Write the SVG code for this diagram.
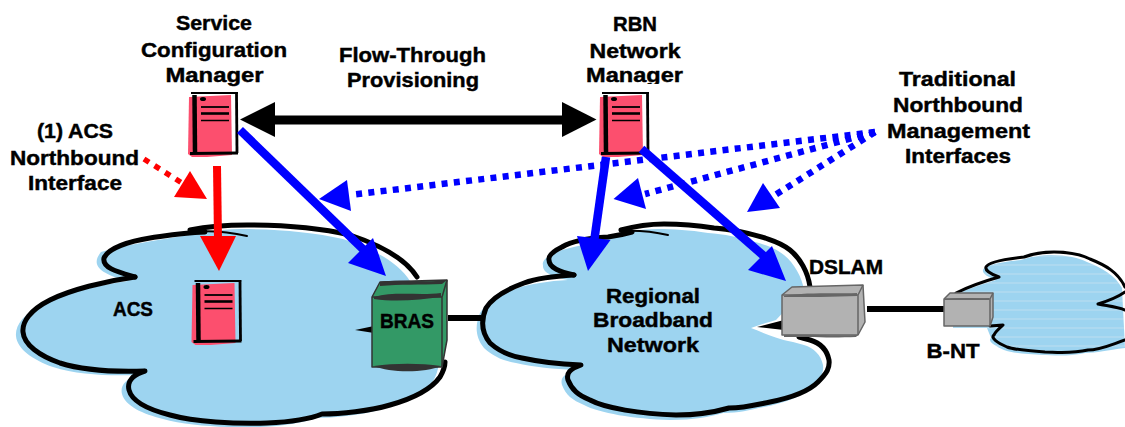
<svg xmlns="http://www.w3.org/2000/svg" xmlns:xlink="http://www.w3.org/1999/xlink" width="1125" height="427" viewBox="0 0 1125 427">
<style>
text{font-family:"Liberation Sans",Arial,sans-serif;font-weight:bold;font-size:21px;fill:#000;stroke:#000;stroke-width:.45px;text-anchor:middle}
.cf{fill:#9dd4f0}
.co{fill:none;stroke:#000;stroke-width:5;stroke-linecap:round;stroke-linejoin:round}
.co2{fill:none;stroke:#000;stroke-width:3;stroke-linecap:round;stroke-linejoin:round}
.link{stroke:#000;stroke-width:6;fill:none}
.sb{stroke:#00f;stroke-width:8.5;fill:none}
.db{stroke:#00f;stroke-width:6.500;stroke-dasharray:6 6.300;fill:none}
.blue{fill:#00f}
.red{fill:#f00}
.spk{fill:#fc4f6e}
.sl{stroke:#000;fill:none}
.bf{fill:#339966;stroke:#333;stroke-width:1.5;stroke-linejoin:round}
.gf{fill:#b2b2b2;stroke:#666;stroke-width:1.5;stroke-linejoin:round}
</style>
<defs>
<g id="srv">
<path class="spk" d="M189,97 L231,95 L232,155 L207,157 L192,157 L188,154 Z"/>
<path class="sl" stroke-width="2" d="M191,93 L238,93"/>
<path class="sl" stroke-width="4.500" d="M194.500,95 L195,153"/>
<path class="sl" stroke-width="2.800" d="M236.500,94 L237,153"/>
<path class="sl" stroke-width="3" d="M190,153.500 L238,153"/>
<ellipse cx="203" cy="99" rx="3" ry="2"/>
<path class="sl" stroke-width="1.800" d="M201,107 L229,107"/>
<path class="sl" stroke-width="2.600" d="M201,113.500 L229,113.500"/>
<path class="sl" stroke-width="1.500" d="M201,120.500 L229,120.500"/>
</g>
<pattern id="stripe" width="6" height="9" patternUnits="userSpaceOnUse">
<rect width="6" height="9" fill="#9dd4f0"/><rect width="6" height="2" fill="#add9f0"/>
</pattern>
<clipPath id="mg"><rect x="580" y="60" width="110" height="24"/></clipPath>
</defs>

<g id="cloud-acs">
<path class="cf" transform="translate(-7,4)" d="M135,277 C105,281 70,290 50,300 C30,310 22,322 23,332 C24,345 40,356 60,363 C85,371 115,372 145,371 C132,375 127,382 129,390 C132,402 150,410 170,415 C195,422 235,424 267,423 C290,422 310,419 322,414 C340,414 370,411 390,405 C415,398 432,388 440,377 C446,368 447,355 447,340 L430,300 L417,277 C405,258 380,245 350,235 C320,228 285,225 247,225 C225,225 210,229 190,232 C165,236 130,241 108,248 C100,258 100,268 135,277 Z"/>
<path class="co" d="M135,277 C105,281 70,290 50,300 C30,310 22,322 23,332 C24,345 40,356 60,363 C85,371 115,372 145,371 C132,375 127,382 129,390 C132,402 150,410 170,415 C195,422 235,424 267,423 C290,422 310,419 322,414 C340,414 370,411 390,405 C415,398 432,388 440,377 C444,370 445,366 445,362"/>
<path class="co" d="M417,277 C405,258 380,245 350,235 C320,228 285,225 247,225 C225,225 205,227 190,230"/>
<path class="co" style="stroke-width:2" d="M190,232 C210,230 230,232 247,236"/>
<path class="co" d="M205,232 C180,233 165,236 150,238 C130,241 108,248 104,258 C102,268 118,272 135,277"/>
<path fill="#000" d="M374,326 L355,330 L374,333 Z"/>
</g>

<g id="cloud-regional">
<path class="cf" transform="translate(-6,5)" d="M574,275 C555,276 535,279 524,283 C505,290 492,298 486,308 C481,320 481,332 490,343 C500,352 510,356 522,358 C540,362 560,364 581,365 C570,369 566,373 568,380 C572,390 578,395 590,400 C605,408 640,414 676,415 C700,415 715,412 729,408 C745,408 755,405 770,402 C790,398 808,392 818,382 C827,373 830,368 829,360 C827,350 820,343 810,340 L799,337 C780,333 770,328 757,323 C765,320 775,317 782,315 L810,285 C808,272 800,258 790,250 C780,242 770,240 765,238 C745,232 730,229 714,228 C695,225 680,224 664,224 C645,224 632,227 621,232 C600,238 575,242 562,247 C550,252 548,258 549,260 C548,268 560,272 574,275 Z"/>
<path class="co" d="M574,275 C555,276 535,279 524,283 C505,290 492,298 486,308 C481,320 481,332 490,343 C500,352 510,356 522,358 C540,362 560,364 581,365 C570,369 566,373 568,380 C572,390 578,395 590,400 C605,408 640,414 676,415 C700,415 715,412 729,408 C745,408 755,405 770,402 C790,398 808,392 818,382 C827,373 830,368 829,360 C827,350 820,343 810,340 L799,337"/>
<path class="co" d="M810,287 C808,272 800,258 790,250 C780,242 770,240 765,238 C745,232 730,229 714,228 C695,225 680,224 664,224 C645,224 632,227 621,230"/>
<path class="co" style="stroke-width:2" d="M621,231 C640,230 655,232 668,235"/>
<path class="co" d="M632,232 C625,234 615,236 608,237 C590,238 572,241 562,247 C552,252 548,256 549,260 C549,268 560,272 574,275"/>
<path fill="#000" d="M784,320 L757,327 L784,330 Z"/>
</g>

<g id="cloud-home">
<path fill="url(#stripe)" transform="translate(-3,3)" d="M956,293 C970,286 985,281 999,277 C990,274 985,270 986,267 C988,262 1005,259 1024,257 C1032,254 1045,252 1054,252 C1070,252 1082,255 1090,259 C1105,265 1118,272 1125,285 L1128,345 C1110,347 1100,350 1088,350 C1070,354 1055,352 1045,352 C1030,351 1015,350 1007,347 C998,343 990,338 994,335 L990,325 L956,325 Z"/>
<path class="co2" d="M956,293 C970,286 985,281 999,277 C990,274 985,270 986,267 C988,262 1005,259 1024,257 C1032,254 1045,252 1054,252 C1070,252 1082,255 1090,259 C1105,265 1118,272 1125,287"/>
<path class="co2" d="M1125,292 C1118,297 1108,301 1098,304 C1108,306 1118,307 1125,310"/>
<path class="co2" d="M1125,340 C1110,345 1100,350 1088,350 C1070,354 1055,352 1045,352 C1030,351 1015,350 1007,347 C998,343 990,338 994,335 C996,331 1000,328 1003,325 L990,326"/>
</g>

<path class="link" d="M448,318 L481,318"/>
<path class="link" d="M867,309 L944,309"/>

<g id="node-scm">
<use xlink:href="#srv" href="#srv"/>
<text x="214" y="30" textLength="76" lengthAdjust="spacingAndGlyphs">Service</text>
<text x="214" y="57" textLength="146" lengthAdjust="spacingAndGlyphs">Configuration</text>
<text x="214.500" y="82" textLength="98" lengthAdjust="spacingAndGlyphs">Manager</text>
</g>

<g id="node-rbn">
<use xlink:href="#srv" href="#srv" transform="translate(411,0)"/>
<text x="635" y="31" textLength="44" lengthAdjust="spacingAndGlyphs">RBN</text>
<text x="635" y="58" textLength="91" lengthAdjust="spacingAndGlyphs">Network</text>
<g clip-path="url(#mg)"><text x="634.500" y="82" textLength="97" lengthAdjust="spacingAndGlyphs">Manager</text></g>
</g>

<g id="node-acs">
<use xlink:href="#srv" href="#srv" transform="translate(3.500,188)"/>
<text x="133" y="316" textLength="40" lengthAdjust="spacingAndGlyphs">ACS</text>
</g>

<g id="node-bras">
<path class="bf" d="M380,282 L447,280 L447,340 L442,367 L372,367 L372,297 Z"/>
<path class="bf" style="fill:none" d="M372,297 L442,297 L442,367 M442,297 L447,280"/>
<path fill="#333" d="M380,282 C400,279 425,283 447,280 L442,284 C420,285 400,284 380,286 Z"/>
<path fill="#333" d="M374,297 C395,291 420,296 441,293 L441,297 C420,300 395,302 374,299 Z"/>
<path fill="#333" d="M374,366 C395,363 420,363 441,366 C425,373 390,373 374,366 Z"/>
<text x="407" y="328" textLength="54" lengthAdjust="spacingAndGlyphs">BRAS</text>
</g>

<g id="node-dslam">
<path class="gf" d="M792,287 L863,285 L865,322 L858,335 L782,335 L782,295 Z"/>
<path class="gf" style="fill:none" d="M782,295 L858,295 L858,335 M858,295 L863,285"/>
<path fill="#666" d="M784,296 C805,292 835,294 857,293 L857,296 C835,297 805,297 784,297 Z"/>
<path fill="#666" d="M784,335 C805,334 835,336 858,335 L856,337 C835,338 805,337 784,337 Z"/>
<text x="846" y="274" textLength="74" lengthAdjust="spacingAndGlyphs">DSLAM</text>
</g>

<g id="node-bnt">
<path class="gf" d="M950,293 L993,293 L993,317 L990,326 L944,326 L944,299 Z"/>
<path class="gf" style="fill:none" d="M944,299 L990,299 L990,326 M990,299 L993,293"/>
<path fill="#666" d="M945,299 C960,297 975,299 989,298 L989,300 L945,300 Z"/>
<text x="953" y="358" textLength="53" lengthAdjust="spacingAndGlyphs">B-NT</text>
</g>

<g id="labels">
<text x="412.500" y="62" textLength="147" lengthAdjust="spacingAndGlyphs">Flow-Through</text>
<text x="413" y="87" textLength="132" lengthAdjust="spacingAndGlyphs">Provisioning</text>
<text x="75" y="138" textLength="76" lengthAdjust="spacingAndGlyphs">(1) ACS</text>
<text x="74.500" y="165" textLength="129" lengthAdjust="spacingAndGlyphs">Northbound</text>
<text x="75" y="190" textLength="94" lengthAdjust="spacingAndGlyphs">Interface</text>
<text x="957.500" y="86" textLength="117" lengthAdjust="spacingAndGlyphs">Traditional</text>
<text x="958" y="112" textLength="130" lengthAdjust="spacingAndGlyphs">Northbound</text>
<text x="958.500" y="138" textLength="143" lengthAdjust="spacingAndGlyphs">Management</text>
<text x="958" y="163" textLength="106" lengthAdjust="spacingAndGlyphs">Interfaces</text>
<text x="653" y="303" textLength="94" lengthAdjust="spacingAndGlyphs">Regional</text>
<text x="653" y="327" textLength="120" lengthAdjust="spacingAndGlyphs">Broadband</text>
<text x="653" y="352" textLength="92" lengthAdjust="spacingAndGlyphs">Network</text>
</g>

<g id="connectors">
<path d="M270,120 L570,120" stroke="#000" stroke-width="9" fill="none"/>
<polygon points="240,119.500 275,102 275,137"/>
<polygon points="596.500,119.500 562,102 562,137"/>
<path d="M217,166 L218,240" stroke="#f00" stroke-width="8" fill="none"/>
<polygon class="red" points="200,236 236,236 219,271"/>
<path d="M144,159 L182,183" stroke="#f00" stroke-width="5.500" stroke-dasharray="6 6.500" fill="none"/>
<polygon class="red" points="207,199 190,171 174,197"/>
<path class="sb" d="M240,130 L367,253"/>
<polygon class="blue" points="386,276 373,238 348,263"/>
<path class="sb" d="M606,157 L594,242"/>
<polygon class="blue" points="588,271 577,236 610.500,240"/>
<path class="sb" d="M641.500,149 L765,257"/>
<polygon class="blue" points="786,281 772,246 748,270"/>
<path class="db" d="M875,132 L350,195"/>
<polygon class="blue" points="319,199 347,180 351,211"/>
<path class="db" d="M875,132 L645,194"/>
<polygon class="blue" points="613.500,199 638,178 646,209"/>
<path class="db" d="M875,132 L772,197"/>
<polygon class="blue" points="747,212 763,183 780,208"/>
</g>
</svg>
